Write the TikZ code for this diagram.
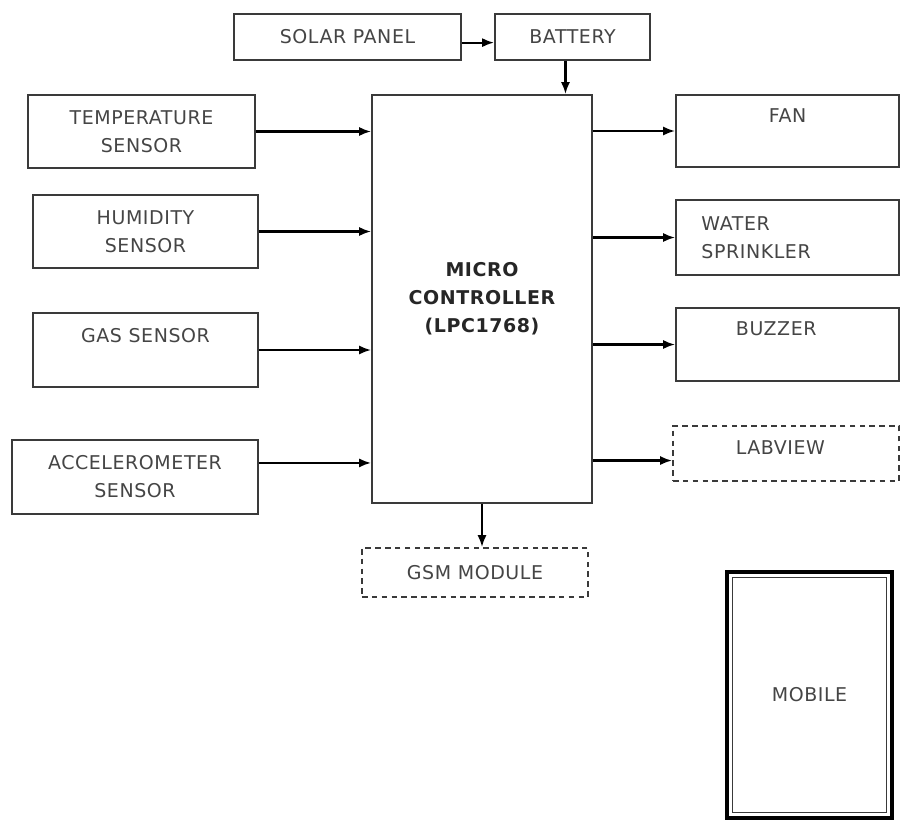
\documentclass[tikz,border=0pt]{standalone}
\usepackage{fontspec}
\setmainfont{DejaVu Sans}[LetterSpace=3]
\usetikzlibrary{arrows.meta, positioning, calc}
\definecolor{cline}{HTML}{3A3A3A}
\definecolor{ctext}{HTML}{454545}
\tikzset{
  every picture/.style={font=\fontsize{13.5}{20}\selectfont, line width=1.3pt},
  box/.style={draw=cline, fill=white, align=center, text=ctext, inner sep=2pt},
  dbox/.style={box, dash pattern=on 4pt off 3pt},
  arrow/.style={-{Latex[length=8.5pt, width=6.5pt]}, draw=black, line width=1.5pt},
  lbl/.style={text=ctext, align=center},
}
\begin{document}
\begin{tikzpicture}[x=0.025cm, y=-0.025cm]
  \useasboundingbox (0,0) rectangle (900,821);
  % power supply
  \node[box, minimum width=5.675cm, minimum height=1.15cm] (solar) at (347.5,37) {SOLAR PANEL};
  \node[box, minimum width=3.875cm, minimum height=1.15cm] (battery) at (572.5,37) {BATTERY};
  % controller
  \node[box, minimum width=5.5cm, minimum height=10.2cm, text=black!85, font=\fontsize{13.5}{20}\selectfont\bfseries] (mcu) at (482,299) {MICRO\\CONTROLLER\\(LPC1768)};
  % sensors
  \node[box, minimum width=5.675cm, minimum height=1.825cm] (temp) at (141.5,131.5) {TEMPERATURE\\SENSOR};
  \node[box, minimum width=5.625cm, minimum height=1.825cm] (hum) at (145.5,231.5) {HUMIDITY\\SENSOR};
  \node[box, minimum width=5.625cm, minimum height=1.85cm, label={[lbl, yshift=10.5pt]center:GAS SENSOR}] (gas) at (145.5,350) {};
  \node[box, minimum width=6.15cm, minimum height=1.85cm] (accel) at (135,477) {ACCELEROMETER\\SENSOR};
  % outputs
  \node[box, minimum width=5.575cm, minimum height=1.8cm, label={[lbl, yshift=11pt]center:FAN}] (fan) at (787.5,131) {};
  \node[box, minimum width=5.575cm, minimum height=1.875cm, align=left, text width=4.3cm] (water) at (787.5,237.5) {WATER\\SPRINKLER};
  \node[box, minimum width=5.575cm, minimum height=1.825cm, label={[lbl, shift={(-8pt,11pt)}]center:BUZZER}] (buzzer) at (787.5,344.5) {};
  \node[dbox, minimum width=5.65cm, minimum height=1.375cm, label={[lbl, shift={(-4pt,4.5pt)}]center:LABVIEW}] (labview) at (786,453.5) {};
  \node[dbox, minimum width=5.65cm, minimum height=1.225cm] (gsm) at (475,572.5) {GSM MODULE};
  % phone
  \node[box, draw=black, line width=3.2pt, minimum width=4.125cm, minimum height=6.15cm] (mobile) at (809.5,695) {MOBILE};
  \draw[cline, line width=1pt] ([shift={(5.5pt,-5.5pt)}]mobile.north west) rectangle ([shift={(-5.5pt,5.5pt)}]mobile.south east);
  % connections
  \draw[arrow] ([yshift=-4pt]solar.east) -- ([yshift=-4pt]battery.west);
  \draw[arrow] ([xshift=-5pt]battery.south) -- ([xshift=-5pt]battery.south |- mcu.north);
  \foreach \s in {temp, hum, gas} {\draw[arrow] (\s.east) -- (\s.east -| mcu.west);}
  \draw[arrow] ([yshift=10pt]accel.east) -- ([yshift=10pt]accel.east -| mcu.west);
  \foreach \o in {fan, water, buzzer} {\draw[arrow] (\o.west -| mcu.east) -- (\o.west);}
  \draw[arrow] ([yshift=-5pt]labview.west -| mcu.east) -- ([yshift=-5pt]labview.west);
  \draw[arrow] (mcu.south) -- (mcu.south |- gsm.north);
\end{tikzpicture}
\end{document}
